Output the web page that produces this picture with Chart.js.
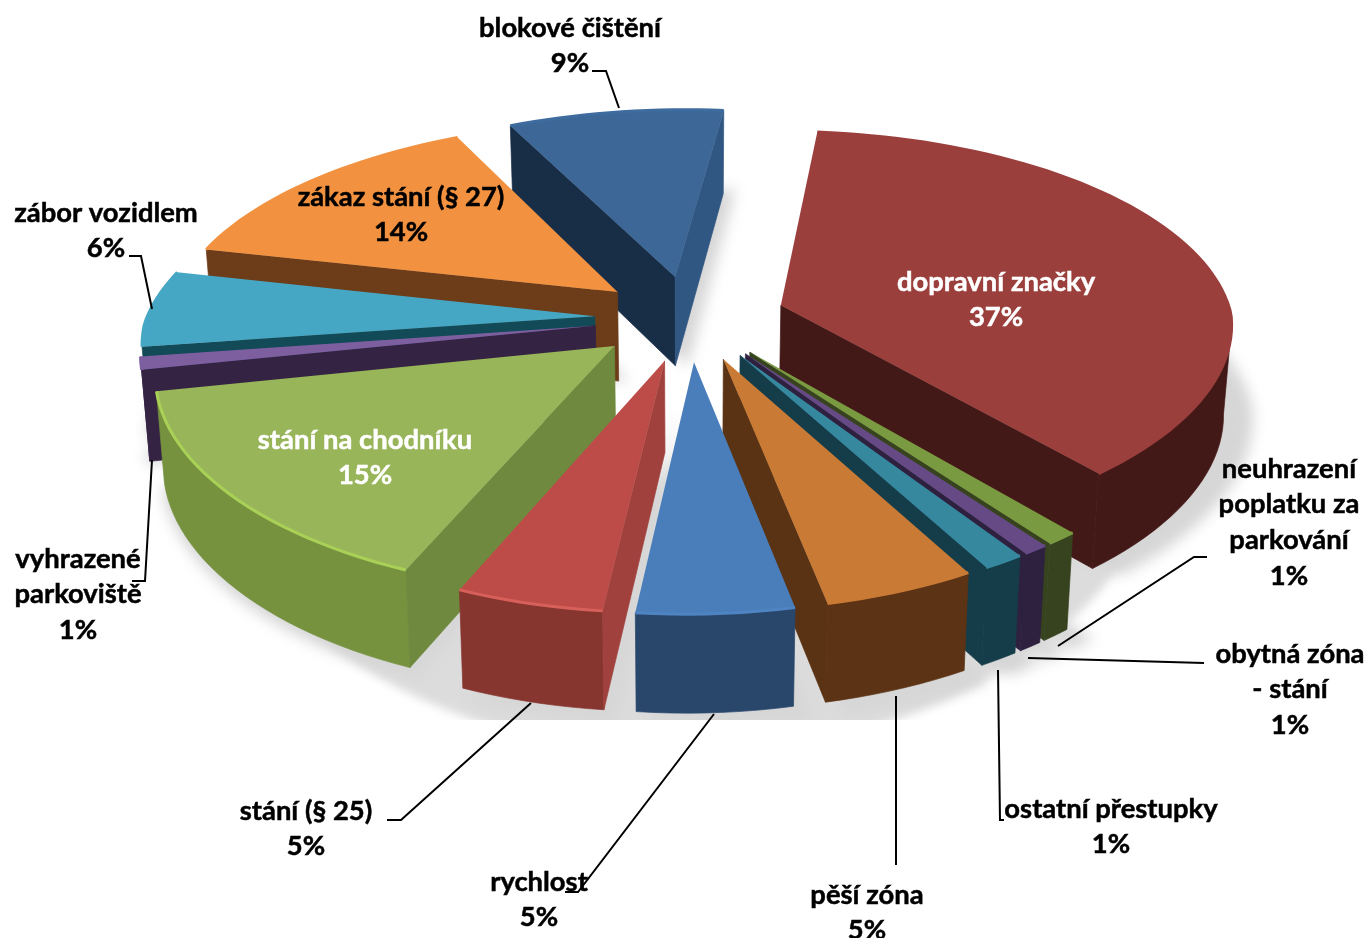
<!DOCTYPE html>
<html>
<head>
<meta charset="utf-8">
<style>
html,body{margin:0;padding:0;background:#fff;overflow:hidden;}
canvas{display:block;}
</style>
<script src="https://cdn.jsdelivr.net/npm/chart.js@4"></script>
</head>
<body>
<canvas id="pie" width="1368" height="938"></canvas>
<script>
// data, labels on the picture are these rounded
const categories = ["dopravní značky","neuhrazení poplatku za parkování","obytná zóna - stání","ostatní přestupky","pěší zóna","rychlost","stání (§ 25)","stání na chodníku","vyhrazené parkoviště","zábor vozidlem","zákaz stání (§ 27)","blokové čištění"];
const values = [37,1,0.8,1.3,4.8,5,4.7,15.4,1,6,14,9];

// how each label is broken into lines
const labelLines = [["dopravní značky"],["neuhrazení","poplatku za","parkování"],["obytná zóna","- stání"],["ostatní přestupky"],["pěší zóna"],["rychlost"],["stání (§ 25)"],["stání na chodníku"],["vyhrazené","parkoviště"],["zábor vozidlem"],["zákaz stání (§ 27)"],["blokové čištění"]];
const labelX = [996,1289,1290,1111,867,539,306,365,78,106,401,570];
const labelY = [282,469,654,809,895,882,811,440,559,213,197,28];
const labelColor = ["#fff","#000","#000","#000","#000","#000","#000","#fff","#000","#000","#000","#000"];

// leader lines
const leaders = [
  [[1058,646],[1194,557],[1207,557]],
  [[1028,658],[1204,663]],
  [[998,670],[1000,820],[1004,820]],
  [[896,696],[896,865]],
  [[714,714],[578,892],[565,892]],
  [[531,703],[401,820],[387,820]],
  [[152,460],[145,581],[132,581]],
  [[152,309],[141,256],[129,256]],
  [[619,108],[606,71],[592,71]]
];

// colours
const topColors = ["#9b3f3d","#7a9a42","#664a86","#36889f","#c97a35","#4a7ebb","#bd4c48","#98b559","#7d5fa0","#46a7c5","#f29240","#3d6797"];
const wallColors = ["#431917","#37431f","#2e2140","#143d49","#5c3314","#29466b","#87352f","#76923f","#352343","#134a58","#6d3c18","#2f5380"];
const startWallColors = ["#431917","#37431f","#2e2140","#143d49","#5a3214","#29466b","#a0413d","#6f8a3e","#352343","#134a58","#6d3c18","#182d46"];
const endWallColors = ["#431917","#37431f","#2e2140","#143d49","#5a3214","#29466b","#a0413d","#6f8a3e","#352343","#134a58","#6d3c18","#305682"];
const rimColors = ["#9b3f3d","#7a9a42","#664a86","#36889f","#c97a35","#4f84c2","#d8605a","#a9d157","#7d5fa0","#46a7c5","#f29240","#3f6c9e"];

// view of the pie plane
const viewX = 690, viewY = 318, scaleX = 450, scaleY = 202;
const persp = 0.143, perspFront = 0.1, tilt = 0.009, depth = 90;

function project(u, v, low){
  const sx = 1/(1 - (v>0 ? perspFront : persp)*v);
  const sy = 1/(1 - persp*v);
  let x = viewX + u*scaleX*sx;
  let y = viewY + v*scaleY*sy - tilt*(x - viewX);
  if(low){
    x = viewX + (x - viewX)*0.985;
    y += depth*Math.sqrt(sy)*low;
  }
  return {x, y};
}

// turn a chart arc into points on the pie plane
function arcGeometry(arc, index){
  const mid = (arc.startAngle + arc.endAngle)/2;
  const R = arc.outerRadius;
  const off = arc.options.offset;
  const ou = Math.cos(mid)*off/R, ov = Math.sin(mid)*off/R;
  const rim = [];
  const steps = Math.max(2, Math.ceil((arc.endAngle - arc.startAngle)/(Math.PI/90)));
  for(let i=0;i<=steps;i++){
    const a = arc.startAngle + (arc.endAngle - arc.startAngle)*i/steps;
    rim.push([ou + Math.cos(a), ov + Math.sin(a)]);
  }
  return {index, mid, apex:[ou,ov], rim};
}

function fillWall(ctx, pts, color){
  ctx.beginPath();
  pts.forEach((r,k)=>{ const p = project(r[0],r[1]); if(k===0) ctx.moveTo(p.x,p.y); else ctx.lineTo(p.x,p.y); });
  pts.slice().reverse().forEach(r=>{ const p = project(r[0],r[1],1); ctx.lineTo(p.x,p.y); });
  ctx.closePath();
  ctx.fillStyle = color; ctx.strokeStyle = color; ctx.lineWidth = 0.7;
  ctx.fill(); ctx.stroke();
}

function facesViewer(a, b){
  return project(b[0],b[1]).x < project(a[0],a[1]).x;
}

function drawShadow(ctx, slices){
  ctx.save();
  ctx.beginPath();
  ctx.rect(0,0,1368,720);
  ctx.clip();

  // floor between the front slices, fading out towards the middle
  const floor = ctx.createLinearGradient(0,410,0,540);
  floor.addColorStop(0,"rgba(220,220,220,0)");
  floor.addColorStop(1,"rgba(220,220,220,1)");
  ctx.filter = "blur(5px)";
  ctx.fillStyle = floor;
  ctx.beginPath();
  for(let a=0;a<360;a+=3){
    const t = a*Math.PI/180;
    const p = project(1.06*Math.cos(t), 1.36*Math.sin(t), 0.95);
    if(a===0) ctx.moveTo(p.x,p.y); else ctx.lineTo(p.x,p.y);
  }
  ctx.closePath();
  ctx.fill();

  // soft shape cast by each slice
  ctx.filter = "blur(7px)";
  ctx.fillStyle = "#d6d6d6";
  ctx.beginPath();
  slices.forEach(g=>{
    const first = project(g.apex[0]*1.03+0.03,g.apex[1]*1.03,1.02);
    ctx.moveTo(first.x,first.y);
    g.rim.forEach(r=>{ const p = project(r[0]*1.03+0.03,r[1]*1.03,1.02); ctx.lineTo(p.x,p.y); });
    ctx.closePath();
  });
  ctx.fill();
  ctx.restore();
}

function drawSlice(ctx, g, arc){
  const i = g.index;
  // outer wall, one run at a time
  let run = [];
  for(let k=0;k<g.rim.length-1;k++){
    if(facesViewer(g.rim[k], g.rim[k+1])){
      if(!run.length) run.push(g.rim[k]);
      run.push(g.rim[k+1]);
    }else if(run.length){
      fillWall(ctx, run, wallColors[i]);
      run = [];
    }
  }
  if(run.length) fillWall(ctx, run, wallColors[i]);
  // cut faces
  if(facesViewer(g.apex, g.rim[0])) fillWall(ctx, [g.apex, g.rim[0]], startWallColors[i]);
  const last = g.rim[g.rim.length-1];
  if(facesViewer(last, g.apex)) fillWall(ctx, [last, g.apex], endWallColors[i]);
  // top
  ctx.beginPath();
  const a = project(g.apex[0],g.apex[1]);
  ctx.moveTo(a.x,a.y);
  g.rim.forEach(r=>{ const p = project(r[0],r[1]); ctx.lineTo(p.x,p.y); });
  ctx.closePath();
  ctx.fillStyle = arc.options.backgroundColor;
  ctx.fill();
  // light edge on the rim
  ctx.save();
  ctx.filter = "blur(0.6px)";
  ctx.beginPath();
  g.rim.forEach((r,k)=>{ const p = project(r[0],r[1]); if(k===0) ctx.moveTo(p.x,p.y); else ctx.lineTo(p.x,p.y); });
  ctx.strokeStyle = rimColors[i];
  ctx.lineWidth = 3;
  ctx.stroke();
  ctx.restore();
}

const pie3d = {
  id:"pie3d",
  beforeDatasetsDraw(chart){
    const ctx = chart.ctx;
    const arcs = chart.getDatasetMeta(0).data;
    const slices = arcs.map((arc,i)=>arcGeometry(arc,i));
    drawShadow(ctx, slices);
    slices.slice().sort((p,q)=>Math.sin(p.mid)-Math.sin(q.mid)).forEach(g=>{
      drawSlice(ctx, g, arcs[g.index]);
    });

    // leaders
    ctx.strokeStyle = "#000";
    ctx.lineWidth = 2;
    leaders.forEach(line=>{
      ctx.beginPath();
      line.forEach((p,k)=>{ if(k===0) ctx.moveTo(p[0],p[1]); else ctx.lineTo(p[0],p[1]); });
      ctx.stroke();
    });

    // labels
    ctx.font = "bold 27.4px Lato";
    ctx.textAlign = "center";
    ctx.textBaseline = "middle";
    ctx.lineWidth = 0.5;
    categories.forEach((c,i)=>{
      ctx.fillStyle = labelColor[i];
      ctx.strokeStyle = labelColor[i];
      const lines = labelLines[i].concat([Math.round(values[i])+"%"]);
      lines.forEach((t,k)=>{
        ctx.fillText(t, labelX[i], labelY[i]+k*35.6);
        ctx.strokeText(t, labelX[i], labelY[i]+k*35.6);
      });
    });
    return false;
  }
};

new Chart(document.getElementById("pie"),{
  type:"pie",
  data:{
    labels:categories,
    datasets:[{data:values, backgroundColor:topColors, borderWidth:0, offset:90}]
  },
  options:{
    responsive:false,
    animation:false,
    rotation:7,
    plugins:{legend:{display:false}, tooltip:{enabled:false}}
  },
  plugins:[pie3d]
});
</script>
</body>
</html>
